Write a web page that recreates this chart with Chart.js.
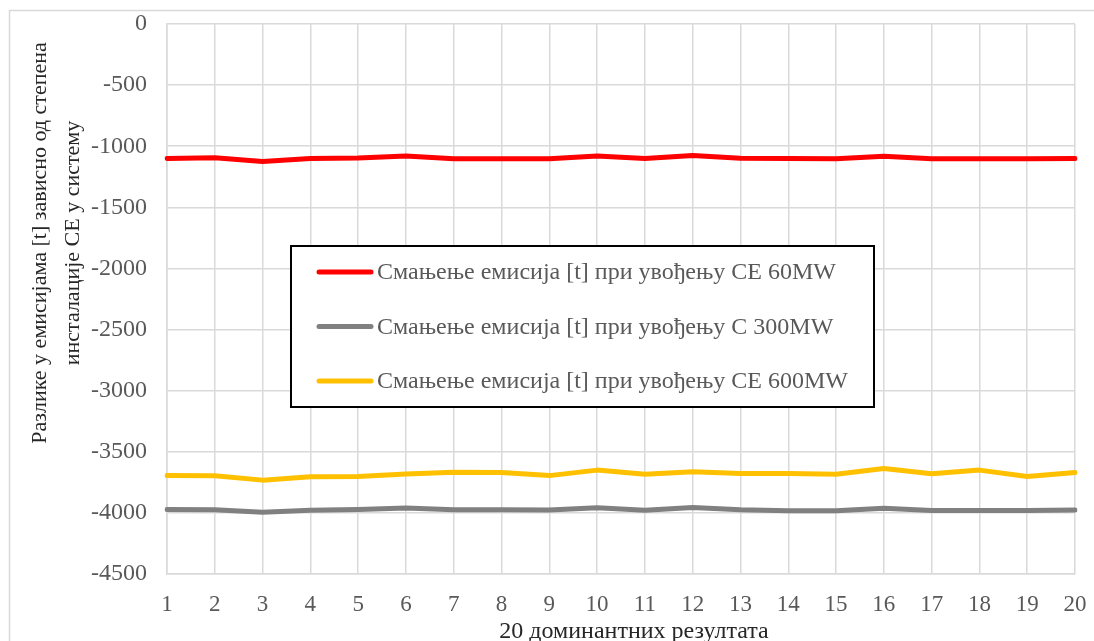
<!DOCTYPE html>
<html>
<head>
<meta charset="utf-8">
<script src="https://cdn.jsdelivr.net/npm/chart.js@4.4.1/dist/chart.umd.min.js"></script>
<style>
html,body{margin:0;padding:0;background:#fff;}
#wrap{position:relative;width:1094px;height:641px;}
</style>
</head>
<body>
<div id="wrap"><canvas id="c" width="1094" height="641"></canvas></div>
<script>
const categories = ['1','2','3','4','5','6','7','8','9','10','11','12','13','14','15','16','17','18','19','20'];
const seriesLabels = [
  'Смањење емисија [t] при увођењу СЕ 60MW',
  'Смањење емисија [t] при увођењу С 300MW',
  'Смањење емисија [t] при увођењу СЕ 600MW'
];
const red60 = [-1100,-1095,-1125,-1100,-1097,-1080,-1103,-1103,-1103,-1080,-1100,-1075,-1098,-1100,-1103,-1082,-1103,-1103,-1103,-1100];
const gray300 = [-3972,-3974,-3995,-3979,-3973,-3961,-3974,-3974,-3976,-3958,-3979,-3955,-3974,-3982,-3983,-3963,-3980,-3980,-3981,-3976];
const yellow600 = [-3695,-3696,-3732,-3705,-3702,-3682,-3668,-3670,-3695,-3650,-3684,-3664,-3677,-3678,-3684,-3636,-3680,-3650,-3703,-3670];
const yTitleLines = ['Разлике у емисијама [t] зависно од степена', 'инсталације СЕ у систему'];
const xTitle = '20 доминантних резултата';
const colors = ['#ff0000', '#808080', '#ffc000'];

const serif = '"Liberation Serif", "Times New Roman", serif';

const framePlugin = {
  id: 'frame',
  beforeDraw(chart) {
    const ctx = chart.ctx;
    ctx.save();
    ctx.strokeStyle = '#d9d9d9';
    ctx.lineWidth = 1.5;
    ctx.strokeRect(9.5, 10.5, 1200, 800);
    ctx.restore();
  }
};

const titlesPlugin = {
  id: 'axisTitles',
  afterDraw(chart) {
    const ctx = chart.ctx;
    ctx.save();
    ctx.fillStyle = '#262626';
    ctx.textAlign = 'center';
    ctx.textBaseline = 'middle';
    ctx.font = '22px ' + serif;
    const xs = [40, 73];
    yTitleLines.forEach((t, i) => {
      ctx.save();
      ctx.translate(xs[i], 243);
      ctx.rotate(-Math.PI / 2);
      ctx.fillText(t, 0, 0);
      ctx.restore();
    });
    ctx.font = '24px ' + serif;
    ctx.fillText(xTitle, 634, 632);
    ctx.restore();
  }
};

const legendPlugin = {
  id: 'boxLegend',
  afterDatasetsDraw(chart) {
    const ctx = chart.ctx;
    ctx.save();
    const bx = 291, by = 246, bw = 583, bh = 161;
    ctx.fillStyle = '#ffffff';
    ctx.fillRect(bx, by, bw, bh);
    ctx.strokeStyle = '#000000';
    ctx.lineWidth = 2;
    ctx.strokeRect(bx, by, bw, bh);
    chart.data.datasets.forEach((ds, i) => {
      const y = 272 + i * 54.5;
      ctx.strokeStyle = ds.borderColor;
      ctx.lineWidth = 5;
      ctx.lineCap = 'round';
      ctx.beginPath();
      ctx.moveTo(319, y);
      ctx.lineTo(371, y);
      ctx.stroke();
      ctx.fillStyle = '#595959';
      ctx.font = '24px ' + serif;
      ctx.textAlign = 'left';
      ctx.textBaseline = 'middle';
      ctx.fillText(ds.label, 377, y + 1);
    });
    ctx.restore();
  }
};

const mk = (label, data, color) => ({
  label, data,
  borderColor: color, backgroundColor: color,
  borderWidth: 5, pointRadius: 0, tension: 0,
  borderCapStyle: 'round', borderJoinStyle: 'round', fill: false
});

new Chart(document.getElementById('c'), {
  type: 'line',
  data: {
    labels: categories,
    datasets: [
      mk(seriesLabels[0], red60, colors[0]),
      mk(seriesLabels[1], gray300, colors[1]),
      mk(seriesLabels[2], yellow600, colors[2])
    ]
  },
  plugins: [framePlugin, legendPlugin, titlesPlugin],
  options: {
    responsive: false,
    animation: false,
    layout: { padding: { top: 24, right: 19, left: 0, bottom: 0 } },
    plugins: { legend: { display: false }, tooltip: { enabled: false } },
    scales: {
      x: {
        offset: false,
        grid: { color: '#d9d9d9', lineWidth: 1.5, drawTicks: false },
        border: { color: '#d9d9d9', width: 1.5 },
        ticks: { color: '#595959', font: { family: serif, size: 23 }, padding: 17, maxRotation: 0, autoSkip: false },
        afterFit(s) { s.height = 67; s.paddingLeft = 0; s.paddingRight = 0; }
      },
      y: {
        min: -4500, max: 0,
        grid: { color: '#d9d9d9', lineWidth: 1.5, drawTicks: false },
        border: { color: '#d9d9d9', width: 1.5 },
        ticks: { stepSize: 500, color: '#595959', font: { family: serif, size: 24 }, padding: 20, callback: v => String(v) },
        afterFit(s) { s.width = 167; s.paddingTop = 0; s.paddingBottom = 0; }
      }
    }
  }
});
</script>
</body>
</html>
